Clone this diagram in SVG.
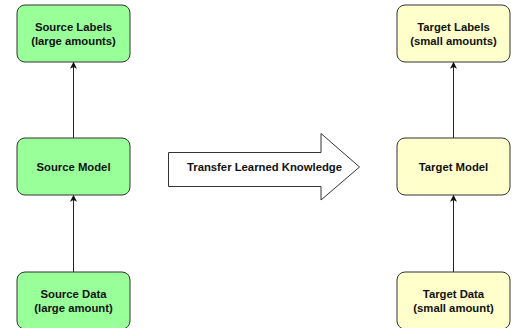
<svg xmlns="http://www.w3.org/2000/svg" width="514" height="328" viewBox="0 0 514 328">
  <style>
    .box { stroke: #333333; stroke-width: 1; }
    .src { fill: #99ff99; }
    .tgt { fill: #ffffcc; }
    .lbl { font-family: "Liberation Sans", Arial, sans-serif; font-size: 11.3px; font-weight: bold; fill: #111111; text-anchor: middle; }
    .edge { stroke: #222222; stroke-width: 1; fill: none; marker-end: url(#head); }
  </style>
  <defs>
    <marker id="head" viewBox="0 0 10 10" refX="9" refY="5" markerWidth="7" markerHeight="8" markerUnits="userSpaceOnUse" orient="auto">
      <path d="M0,0 L10,5 L0,10 L2.5,5 Z" fill="#111111"/>
    </marker>
  </defs>
  <rect width="514" height="328" fill="#ffffff"/>

  <g id="connectors">
    <line class="edge" x1="73.5" y1="272" x2="73.5" y2="195.5"/>
    <line class="edge" x1="73.5" y1="138" x2="73.5" y2="62.5"/>
    <line class="edge" x1="453.5" y1="272" x2="453.5" y2="195.5"/>
    <line class="edge" x1="453.5" y1="138" x2="453.5" y2="62.5"/>
  </g>

  <g id="source-labels">
    <rect class="box src" x="17" y="5" width="113" height="57" rx="8"/>
    <text class="lbl" x="73.5" y="30.5">Source Labels</text>
    <text class="lbl" x="73.5" y="44.5">(large amounts)</text>
  </g>
  <g id="source-model">
    <rect class="box src" x="17" y="138" width="113" height="57" rx="8"/>
    <text class="lbl" x="73.5" y="170.5">Source Model</text>
  </g>
  <g id="source-data">
    <rect class="box src" x="17" y="272" width="113" height="57" rx="8"/>
    <text class="lbl" x="73.5" y="297.5">Source Data</text>
    <text class="lbl" x="73.5" y="311.5">(large amount)</text>
  </g>

  <g id="transfer">
    <path d="M168.5,152.5 L321,152.5 L321,133.5 L359.5,167 L321,200 L321,186.5 L168.5,186.5 Z" fill="#ffffff" stroke="#333333" stroke-width="1"/>
    <text class="lbl" x="264.5" y="171">Transfer Learned Knowledge</text>
  </g>

  <g id="target-labels">
    <rect class="box tgt" x="397" y="5" width="113" height="57" rx="8"/>
    <text class="lbl" x="453.5" y="30.5">Target Labels</text>
    <text class="lbl" x="453.5" y="44.5">(small amounts)</text>
  </g>
  <g id="target-model">
    <rect class="box tgt" x="397" y="138" width="113" height="57" rx="8"/>
    <text class="lbl" x="453.5" y="170.5">Target Model</text>
  </g>
  <g id="target-data">
    <rect class="box tgt" x="397" y="272" width="113" height="57" rx="8"/>
    <text class="lbl" x="453.5" y="297.5">Target Data</text>
    <text class="lbl" x="453.5" y="311.5">(small amount)</text>
  </g>
</svg>
